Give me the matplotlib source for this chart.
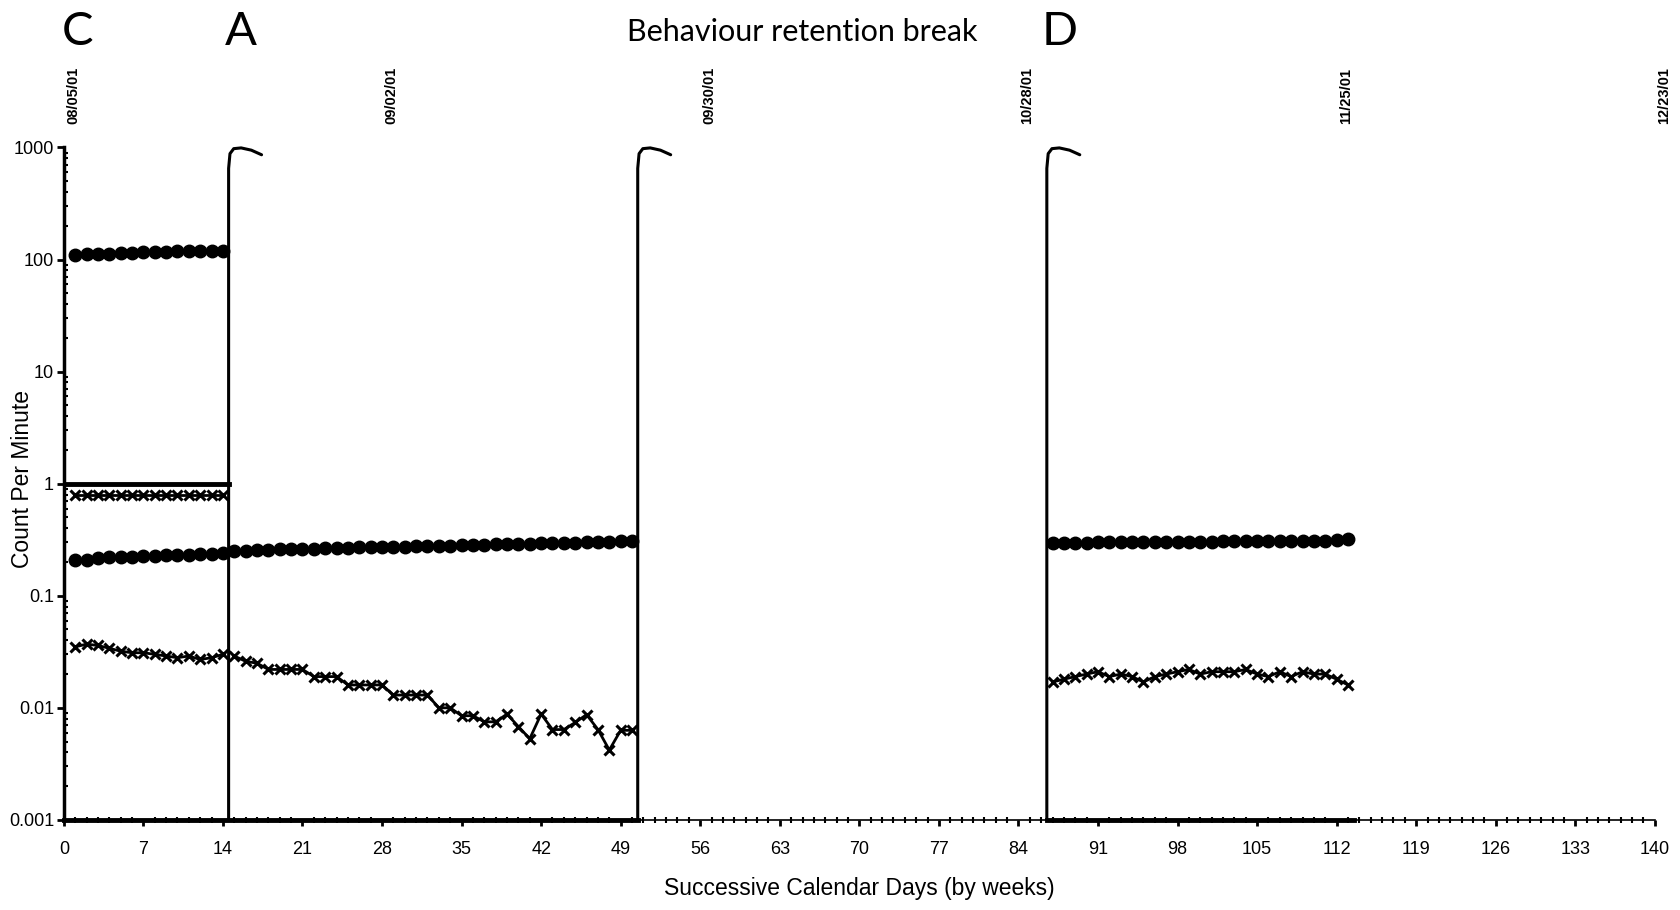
import numpy as np
import matplotlib
matplotlib.use("Agg")
import matplotlib.pyplot as plt
import matplotlib.transforms as mtransforms
from matplotlib.ticker import MultipleLocator, FuncFormatter, LogLocator

plt.rcParams['font.family'] = ['Liberation Sans', 'DejaVu Sans']

# 구간 C (days 1-14)
c_days = np.arange(1, 15)
c_high = [110, 111, 112, 113, 114, 115, 116, 117, 117, 118, 118, 119, 119, 120]
c_mid_x = [0.8, 0.8, 0.8, 0.8, 0.8, 0.8, 0.8, 0.8, 0.8, 0.8, 0.8, 0.8, 0.8, 0.8]
c_low_dot = [0.21, 0.21, 0.215, 0.22, 0.22, 0.22, 0.225, 0.225, 0.23, 0.23, 0.23, 0.235, 0.235, 0.24]
c_low_x = [0.035, 0.037, 0.036, 0.034, 0.032, 0.031, 0.031, 0.030, 0.029, 0.028,
           0.029, 0.027, 0.028, 0.030]

# 구간 A (days 15-50)
a_days = np.arange(15, 51)
a_dot = [0.25, 0.252, 0.255, 0.257, 0.26, 0.26, 0.262, 0.263, 0.265, 0.266, 0.268, 0.27,
         0.27, 0.272, 0.273, 0.275, 0.276, 0.278, 0.28, 0.28, 0.282, 0.284, 0.285, 0.287,
         0.288, 0.29, 0.292, 0.293, 0.295, 0.297, 0.298, 0.3, 0.302, 0.304, 0.306, 0.31]
a_x = [0.029, 0.026, 0.025, 0.022, 0.022, 0.022, 0.022, 0.019, 0.019, 0.019, 0.016, 0.016,
       0.016, 0.016, 0.013, 0.013, 0.013, 0.013, 0.010, 0.010, 0.0085, 0.0085, 0.0075,
       0.0075, 0.0088, 0.0068, 0.0053, 0.0088, 0.0064, 0.0064, 0.0074, 0.0087, 0.0064,
       0.0042, 0.0063, 0.0063]

# 구간 D (days 87-113)
d_days = np.arange(87, 114)
d_dot = [0.295, 0.297, 0.298, 0.298, 0.3, 0.3, 0.3, 0.301, 0.301, 0.302, 0.302, 0.303,
         0.303, 0.304, 0.304, 0.305, 0.305, 0.306, 0.306, 0.307, 0.307, 0.308, 0.309,
         0.31, 0.311, 0.312, 0.318]
d_x = [0.017, 0.018, 0.019, 0.020, 0.021, 0.019, 0.020, 0.019, 0.017, 0.019, 0.020, 0.021,
       0.022, 0.020, 0.021, 0.021, 0.021, 0.022, 0.020, 0.019, 0.021, 0.019, 0.021, 0.020,
       0.020, 0.018, 0.016]

# 기타
ceiling_span = [0, 14.5]
ceiling_value = 1.0
floor_spans = [[0, 50.5], [86.5, 113.5]]
floor_value = 0.001
phase_changes = [14.5, 50.5, 86.5]
phase_labels = ["C", "A", "Behaviour retention break", "D"]
phase_label_days = [1.2, 15.6, 65, 87.6]
date_days = [0, 28, 56, 84, 112, 140]
date_labels = ["08/05/01", "09/02/01", "09/30/01", "10/28/01", "11/25/01", "12/23/01"]

fig = plt.figure(figsize=(16.8, 9.1), dpi=100)
ax = fig.add_axes([0.038, 0.099, 0.947, 0.739])
ax.set_yscale('log')
ax.set_xlim(0, 140)
ax.set_ylim(0.001, 1000)

dot_style = dict(color='black', marker='o', markersize=9, lw=1.5)
x_style = dict(color='black', marker='x', markersize=7.5, mew=2.2, lw=2)

ax.plot(c_days, c_high, **dot_style)
ax.plot(c_days, c_mid_x, **x_style)
ax.plot(c_days, c_low_dot, **dot_style)
ax.plot(c_days, c_low_x, **x_style)
ax.plot(a_days, a_dot, **dot_style)
ax.plot(a_days, a_x, **x_style)
ax.plot(d_days, d_dot, **dot_style)
ax.plot(d_days, d_x, **x_style)

ax.plot(ceiling_span, [ceiling_value, ceiling_value], color='black', lw=3.5)
for span in floor_spans:
    ax.plot(span, [floor_value, floor_value], color='black', lw=3.5, clip_on=False)

# 단계 변경선 + 갈고리
for p in phase_changes:
    hx = [p, p, p + 0.12, p + 0.45, p + 1.1, p + 2.0, p + 2.9]
    hy = [floor_value, 650, 880, 975, 990, 945, 860]
    ax.plot(hx, hy, color='black', lw=2.2, clip_on=False, solid_capstyle='round')

# 축 스타일
for s in ['top', 'right']:
    ax.spines[s].set_visible(False)
ax.spines['left'].set_linewidth(2.5)
ax.spines['bottom'].set_linewidth(1.2)

ax.xaxis.set_major_locator(MultipleLocator(7))
ax.xaxis.set_minor_locator(MultipleLocator(1))
ax.tick_params(axis='x', which='major', direction='out', length=4, width=2, labelsize=13, pad=11)
ax.tick_params(axis='x', which='minor', direction='inout', length=4, width=1.5)
ax.yaxis.set_major_locator(LogLocator(base=10, numticks=10))
ax.yaxis.set_minor_locator(LogLocator(base=10, subs=np.arange(2, 10), numticks=20))
ax.yaxis.set_major_formatter(FuncFormatter(lambda v, _: '%g' % v))
ax.tick_params(axis='y', which='major', direction='out', length=5, width=2, labelsize=13, pad=2)
ax.tick_params(axis='y', which='minor', direction='in', length=3, width=1.5)

ax.set_xlabel("Successive Calendar Days (by weeks)", fontsize=16.5, labelpad=14)
ax.set_ylabel("Count Per Minute", fontsize=16.5)
ax.yaxis.set_label_coords(-0.019, 0.507)

# 날짜 라벨
for d, lab in zip(date_days, date_labels):
    ax.text(d + 0.8, 1.035, lab, transform=ax.get_xaxis_transform(), rotation=90,
            ha='center', va='bottom', fontsize=10.5, fontweight='bold')

# 단계 라벨
top_trans = mtransforms.blended_transform_factory(ax.transData, fig.transFigure)
for d, lab in zip(phase_label_days, phase_labels):
    size = 22 if len(lab) > 1 else 34
    ax.text(d, 0.965, lab, transform=top_trans, ha='center', va='center',
            fontsize=size, family=['Lato', 'DejaVu Sans'], clip_on=False)

fig.savefig("out.png", dpi=100, facecolor='white')
